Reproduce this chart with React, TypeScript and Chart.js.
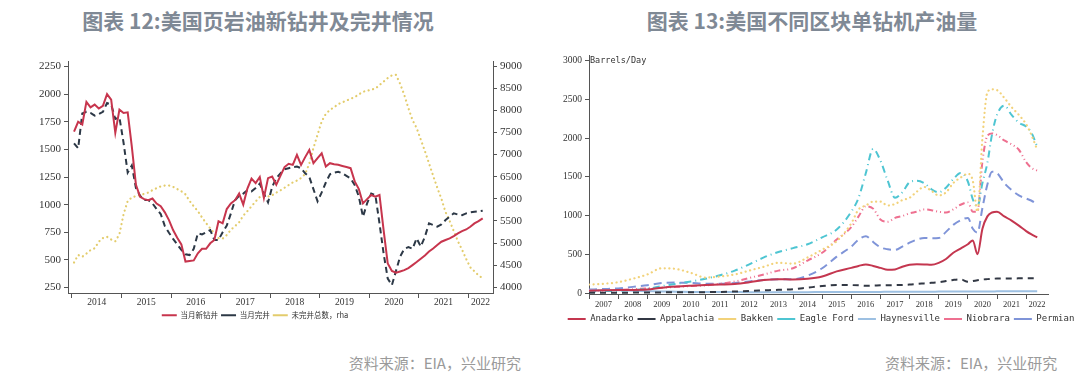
import React, { useEffect, useRef } from 'react';
import { Chart, registerables } from 'chart.js';

Chart.register(...registerables);

// ---------- 图表 12: monthly, Jan 2014 – Apr 2022 ----------
const wellsStartYear = 2014;
const newWellsDrilled = [
  1660, 1750, 1725, 1930, 1880, 1905, 1870, 1895, 2000, 1950,
  1650, 1860, 1830, 1835, 1525, 1180, 1070, 1050, 1040, 1055,
  1010, 985, 930, 860, 770, 700, 640, 485, 490, 495,
  560, 600, 600, 650, 680, 850, 830, 960, 1010, 1040,
  1100, 1000, 1145, 1235, 1195, 1250, 1060, 1240, 1255, 1180,
  1260, 1340, 1370, 1360, 1450, 1360, 1430, 1495, 1375, 1420,
  1465, 1345, 1375, 1365, 1360, 1350, 1340, 1330, 1210, 1140,
  1011, 1050, 1087, 1072, 1087, 770, 467, 400, 383, 395,
  407, 425, 452, 480, 510, 540, 575, 603, 635, 664,
  680, 694, 715, 740, 760, 775, 800, 830, 850, 875,
];
const wellsCompleted = [
  1555, 1510, 1825, 1840, 1830, 1805, 1820, 1840, 1920, 1905,
  1775, 1790, 1560, 1290, 1355, 1150, 1080, 1041, 1041, 1011,
  960, 915, 805, 745, 690, 640, 590, 550, 543, 600,
  740, 730, 750, 770, 680, 680, 750, 810, 920, 1040,
  1080, 1100, 1130, 1120, 1150, 1190, 1100, 1020, 1160, 1240,
  1283, 1320, 1330, 1340, 1344, 1330, 1283, 1250, 1140, 1030,
  1110, 1200, 1275, 1290, 1298, 1283, 1260, 1238, 1177, 1072,
  890, 1011, 1100, 1087, 830, 558, 331, 271, 400, 530,
  600, 615, 600, 694, 620, 709, 830, 815, 800, 820,
  860, 890, 921, 910, 905, 921, 930, 936, 940, 945,
];
const ducWellsTotal = [
  4560, 4730, 4690, 4760, 4840, 4880, 5030, 5110, 5140, 5080,
  5040, 5200, 5650, 5950, 6030, 6060, 6085, 6110, 6140, 6195,
  6240, 6280, 6300, 6300, 6270, 6220, 6170, 6100, 5950, 5830,
  5720, 5580, 5450, 5330, 5220, 5110, 5100, 5180, 5300, 5380,
  5470, 5620, 5720, 5830, 5940, 6040, 6050, 6050, 6080, 6140,
  6190, 6250, 6310, 6370, 6410, 6470, 6560, 6800, 7150, 7450,
  7750, 7920, 8010, 8070, 8140, 8180, 8220, 8260, 8300, 8360,
  8420, 8440, 8470, 8490, 8570, 8650, 8730, 8790, 8800, 8600,
  8350, 8050, 7780, 7600, 7340, 7080, 6800, 6520, 6250, 6000,
  5700, 5500, 5270, 5040, 4850, 4640, 4450, 4360, 4270, 4200,
];
const wellsYearLabels = ['2014', '2015', '2016', '2017', '2018', '2019', '2020', '2021', '2022'];
const wellsLeftTicks = [250, 500, 750, 1000, 1250, 1500, 1750, 2000, 2250];
const wellsRightTicks = [4000, 4500, 5000, 5500, 6000, 6500, 7000, 7500, 8000, 8500, 9000];
const wellsLegend = ['当月新钻井', '当月完井', '未完井总数，rha'];

// ---------- 图表 13: barrels/day per rig ----------
const basinDates = [
  2007, 2007.5, 2008, 2008.5, 2009, 2009.5, 2010, 2010.5, 2011, 2011.5,
  2012, 2012.5, 2013, 2013.5, 2014, 2014.5, 2015, 2015.5, 2016, 2016.25,
  2016.5, 2016.75, 2017, 2017.25, 2017.5, 2017.75, 2018, 2018.25, 2018.5, 2018.75,
  2019, 2019.25, 2019.5, 2019.75, 2020, 2020.17, 2020.33, 2020.5, 2020.67, 2020.83,
  2021, 2021.25, 2021.5, 2021.75, 2022, 2022.17, 2022.38,
];
const anadarko = [
  30, 35, 40, 40, 45, 70, 85, 95, 103, 110,
  118, 140, 168, 180, 175, 185, 215, 280, 325, 350,
  370, 350, 325, 300, 305, 340, 365, 372, 370, 365,
  390, 440, 520, 575, 630, 680, 500, 830, 990, 1040,
  1050, 990, 935, 870, 800, 760, 720,
];
const appalachia = [
  5, 5, 5, 6, 8, 9, 10, 11, 12, 15,
  20, 28, 35, 42, 50, 70, 90, 105, 103, 100,
  95, 97, 100, 102, 103, 105, 110, 118, 125, 132,
  140, 155, 170, 178, 145, 155, 165, 175, 180, 184,
  188, 189, 189, 190, 191, 192, 193,
];
const bakken = [
  110, 120, 140, 185, 240, 320, 310, 260, 200, 215,
  240, 290, 340, 390, 380, 460, 560, 670, 900, 1080,
  1130, 1180, 1180, 1130, 1150, 1200, 1230, 1310, 1370, 1320,
  1260, 1300, 1420, 1490, 1540, 1450, 1050, 2000, 2590, 2630,
  2620, 2520, 2400, 2300, 2180, 2050, 1850,
];
const eagleFord = [
  20, 25, 30, 40, 55, 90, 120, 150, 185, 230,
  290, 370, 460, 530, 580, 630, 720, 820, 1050, 1230,
  1550, 1860, 1710, 1450, 1230, 1300, 1430, 1450, 1420, 1340,
  1300, 1360, 1470, 1550, 1440, 1210, 1120, 1420, 1680, 2050,
  2300, 2420, 2300, 2200, 2150, 2080, 1890,
];
const haynesville = [
  30, 35, 35, 30, 25, 20, 18, 15, 15, 14,
  13, 12, 12, 12, 12, 12, 13, 13, 14, 14,
  15, 15, 15, 16, 16, 17, 17, 18, 18, 18,
  19, 19, 20, 20, 20, 20, 20, 21, 21, 21,
  22, 22, 22, 22, 22, 22, 22,
];
const niobrara = [
  30, 35, 40, 50, 60, 70, 80, 90, 100, 120,
  150, 195, 240, 290, 320, 420, 520, 690, 850, 990,
  1120, 1090, 950, 920, 970, 995, 1030, 1050, 1080, 1070,
  1050, 1040, 1080, 1140, 1170, 1050, 1050, 1700, 2030, 2060,
  2040, 1970, 1920, 1850, 1690, 1620, 1580,
];
const permian = [
  45, 52, 60, 80, 100, 130, 135, 130, 120, 120,
  130, 150, 170, 180, 180, 225, 320, 470, 600, 690,
  735, 660, 590, 565, 557, 600, 650, 690, 712, 707,
  710, 790, 880, 940, 970, 830, 780, 1100, 1400, 1565,
  1550, 1420, 1330, 1260, 1220, 1195, 1145,
];
const basinNames = ['Anadarko', 'Appalachia', 'Bakken', 'Eagle Ford', 'Haynesville', 'Niobrara', 'Permian'];
const basinYearLabels = [
  '2007', '2008', '2009', '2010', '2011', '2012', '2013', '2014',
  '2015', '2016', '2017', '2018', '2019', '2020', '2021', '2022',
];
const basinTicks = [0, 500, 1000, 1500, 2000, 2500, 3000];

// ---------- helpers ----------
const AXIS = '#555';
const TXT = '#333';
const serif = '"Liberation Serif", "DejaVu Serif", serif';

function yearAxis(labels: string[], min: number, max: number, fontSize: number, pad: number, height: number) {
  const years = labels.map(Number);
  const labelPos = years.map((y) => (y + Math.min(y + 1, max)) / 2);
  const isYear = (v: number) => years.some((y) => Math.abs(y - v) < 1e-6);
  return {
    type: 'linear',
    position: 'bottom',
    min,
    max,
    afterBuildTicks: (s: any) => {
      const t = [...years, ...labelPos].map((v) => ({ value: v }));
      t.sort((a, b) => a.value - b.value);
      s.ticks = t;
    },
    ticks: {
      autoSkip: false,
      maxRotation: 0,
      minRotation: 0,
      padding: pad,
      color: TXT,
      font: { family: serif, size: fontSize },
      callback: (v: number) => {
        const i = labelPos.findIndex((p) => Math.abs(p - v) < 1e-6);
        return i >= 0 ? labels[i] : '';
      },
    },
    grid: {
      drawOnChartArea: false,
      drawTicks: true,
      tickLength: 5,
      tickWidth: 1,
      tickColor: (c: any) => (c.tick && isYear(c.tick.value) ? AXIS : 'rgba(0,0,0,0)'),
    },
    border: { display: true, color: AXIS, width: 1 },
    afterFit: (s: any) => {
      s.height = height;
    },
  };
}

function valueAxis(position: string, min: number, max: number, ticks: number[], fontSize: number, width: number) {
  return {
    type: 'linear',
    position,
    min,
    max,
    afterBuildTicks: (s: any) => {
      s.ticks = ticks.map((v) => ({ value: v }));
    },
    ticks: {
      color: TXT,
      padding: 3,
      font: { family: serif, size: fontSize },
      callback: (v: number) => String(v),
    },
    grid: { drawOnChartArea: false, drawTicks: true, tickLength: 4, tickColor: AXIS },
    border: { display: true, color: AXIS, width: 1 },
    afterFit: (s: any) => {
      s.width = width;
    },
  };
}

const barrelsLabel = {
  id: 'barrelsLabel',
  afterDraw(chart: any) {
    const { ctx, chartArea } = chart;
    ctx.save();
    ctx.font = '8.5px "DejaVu Sans Mono", monospace';
    ctx.fillStyle = TXT;
    ctx.textBaseline = 'middle';
    ctx.fillText('Barrels/Day', chartArea.left + 1, chartArea.top + 5.5);
    ctx.restore();
  },
};

const dotted = { borderDash: [0.1, 4.5], borderCapStyle: 'round' };

export default function App() {
  const leftRef = useRef<HTMLCanvasElement>(null);
  const rightRef = useRef<HTMLCanvasElement>(null);

  useEffect(() => {
    const monthX = (i: number) => wellsStartYear + (i + 0.5) / 12;
    const left = new Chart(leftRef.current as HTMLCanvasElement, {
      type: 'line',
      data: {
        datasets: [
          {
            label: wellsLegend[0],
            data: newWellsDrilled.map((v, i) => ({ x: monthX(i), y: v })),
            borderColor: '#c7354d',
            borderWidth: 2,
            yAxisID: 'y',
          },
          {
            label: wellsLegend[1],
            data: wellsCompleted.map((v, i) => ({ x: monthX(i), y: v })),
            borderColor: '#2c3846',
            borderWidth: 2,
            borderDash: [6, 4],
            yAxisID: 'y',
          },
          {
            label: wellsLegend[2],
            data: ducWellsTotal.map((v, i) => ({ x: monthX(i), y: v })),
            borderColor: '#e3cc6c',
            borderWidth: 2.2,
            ...dotted,
            yAxisID: 'y1',
          },
        ] as any,
      },
      options: {
        animation: false,
        responsive: true,
        maintainAspectRatio: false,
        parsing: false,
        elements: { point: { radius: 0 }, line: { tension: 0 } },
        layout: { padding: { top: 11, left: 0, right: 0, bottom: 1 } },
        scales: {
          x: yearAxis(wellsYearLabels, 2013.92, 2022.5, 9.5, -1, 15.5),
          y: valueAxis('left', 200, 2300, wellsLeftTicks, 11, 98),
          y1: valueAxis('right', 3870, 9115, wellsRightTicks, 11, 47),
        } as any,
        plugins: {
          legend: {
            position: 'bottom',
            labels: {
              usePointStyle: true,
              pointStyle: 'line',
              pointStyleWidth: 15,
              padding: 3,
              color: TXT,
              font: { family: '"Noto Sans CJK SC", sans-serif', size: 7.5 },
            },
          },
          tooltip: { enabled: false },
        },
      } as any,
    });

    const basinSeries = [anadarko, appalachia, bakken, eagleFord, haynesville, niobrara, permian];
    const basinStyles: any[] = [
      { borderColor: '#c4364f', borderWidth: 2 },
      { borderColor: '#323844', borderWidth: 2, borderDash: [6, 5] },
      { borderColor: '#f2d27a', borderWidth: 2.2, ...dotted },
      { borderColor: '#4ec5d2', borderWidth: 2, borderDash: [7, 4, 1, 4] },
      { borderColor: '#9dc0e2', borderWidth: 2 },
      { borderColor: '#ee7090', borderWidth: 2, borderDash: [6, 3, 1, 3, 1, 3] },
      { borderColor: '#7f94d8', borderWidth: 2, borderDash: [8, 5] },
    ];
    const right = new Chart(rightRef.current as HTMLCanvasElement, {
      type: 'line',
      data: {
        datasets: basinSeries.map((arr, k) => ({
          label: basinNames[k],
          data: arr.map((v, i) => ({ x: basinDates[i], y: v })),
          ...basinStyles[k],
        })) as any,
      },
      options: {
        animation: false,
        responsive: true,
        maintainAspectRatio: false,
        parsing: false,
        elements: { point: { radius: 0 }, line: { cubicInterpolationMode: 'monotone' } },
        layout: { padding: { top: 10, left: 0, right: 0, bottom: 0.5 } },
        scales: {
          x: yearAxis(basinYearLabels, 2007, 2022.75, 8.5, 1, 16.5),
          y: valueAxis('left', -12, 3073, basinTicks, 9.5, 27),
          yPad: {
            type: 'linear',
            position: 'right',
            display: true,
            grid: { display: false, drawTicks: false },
            ticks: { display: false },
            border: { display: false },
            afterFit: (s: any) => {
              s.width = 32;
            },
          },
        } as any,
        plugins: {
          legend: {
            position: 'bottom',
            labels: {
              usePointStyle: true,
              pointStyle: 'line',
              pointStyleWidth: 18,
              padding: 4,
              color: TXT,
              font: { family: '"DejaVu Sans Mono", monospace', size: 9 },
            },
          },
          tooltip: { enabled: false },
        },
      } as any,
      plugins: [barrelsLabel],
    });

    return () => {
      left.destroy();
      right.destroy();
    };
  }, []);

  const titleStyle: React.CSSProperties = {
    position: 'absolute',
    top: 5,
    textAlign: 'center',
    fontFamily: '"Noto Sans CJK SC", sans-serif',
    fontWeight: 700,
    fontSize: 21,
    lineHeight: '30px',
    color: '#7f8995',
    whiteSpace: 'nowrap',
  };
  const sourceStyle: React.CSSProperties = {
    position: 'absolute',
    top: 352,
    fontFamily: '"Noto Sans CJK SC", sans-serif',
    fontSize: 15,
    lineHeight: '22px',
    color: '#9a9a9a',
    whiteSpace: 'nowrap',
  };

  return (
    <div style={{ position: 'absolute', left: 0, top: 0, width: 1080, height: 383, background: '#fff', overflow: 'hidden' }}>
      <div style={{ ...titleStyle, left: 0, width: 516 }}>图表 12:美国页岩油新钻井及完井情况</div>
      <div style={{ ...titleStyle, left: 540, width: 544 }}>图表 13:美国不同区块单钻机产油量</div>
      <div style={{ position: 'absolute', left: -30, top: 50, width: 570, height: 280 }}>
        <canvas ref={leftRef} />
      </div>
      <div style={{ position: 'absolute', left: 562, top: 45, width: 518, height: 289 }}>
        <canvas ref={rightRef} />
      </div>
      <div style={{ ...sourceStyle, right: 1080 - 521 }}>资料来源：EIA，兴业研究</div>
      <div style={{ ...sourceStyle, left: 885 }}>资料来源：EIA，兴业研究</div>
    </div>
  );
}
